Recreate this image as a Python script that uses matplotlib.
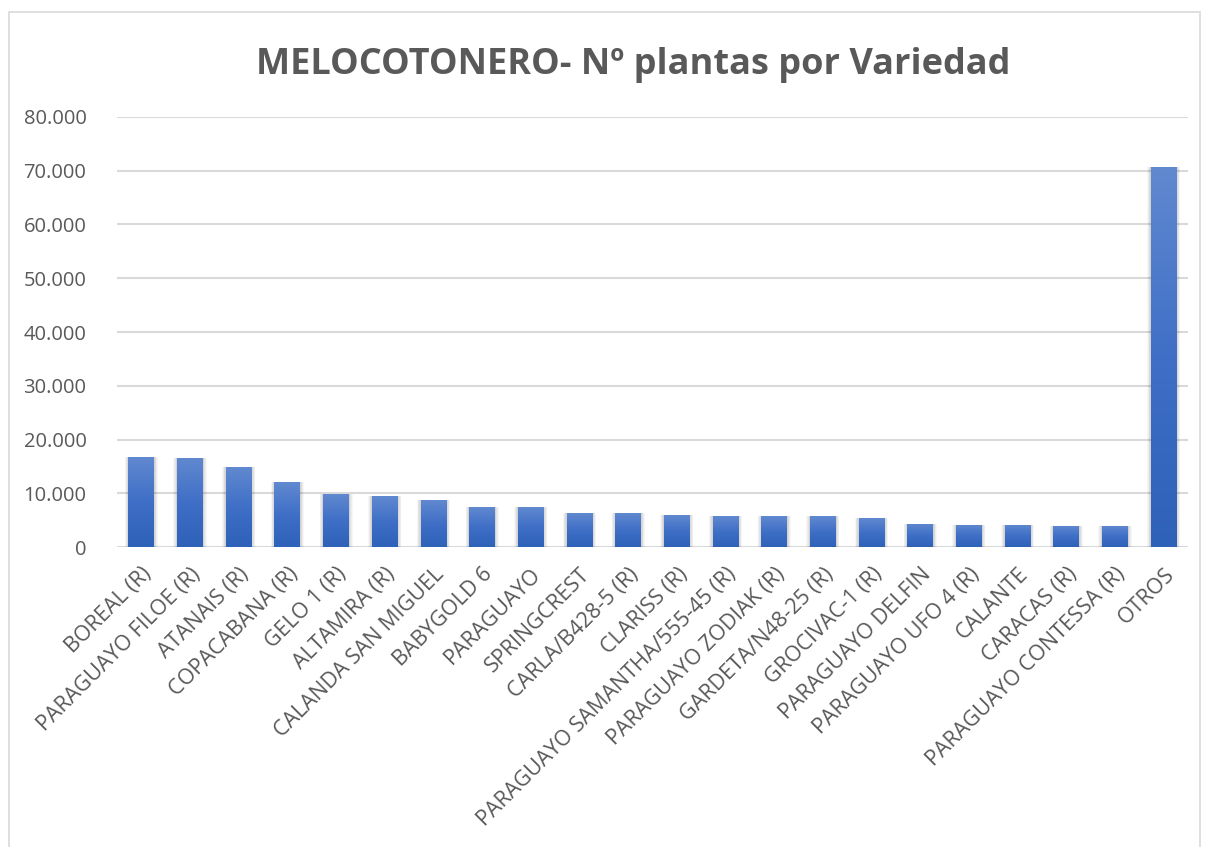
import numpy as np
import matplotlib.pyplot as plt
from matplotlib.colors import LinearSegmentedColormap
from matplotlib.patches import Rectangle
from matplotlib.ticker import FuncFormatter

variedades = ["BOREAL (R)", "PARAGUAYO FILOE (R)", "ATANAIS (R)", "COPACABANA (R)",
              "GELO 1 (R)", "ALTAMIRA (R)", "CALANDA SAN MIGUEL", "BABYGOLD 6",
              "PARAGUAYO", "SPRINGCREST", "CARLA/B428-5 (R)", "CLARISS (R)",
              "PARAGUAYO SAMANTHA/555-45 (R)", "PARAGUAYO ZODIAK (R)",
              "GARDETA/N48-25 (R)", "GROCIVAC-1 (R)", "PARAGUAYO DELFIN",
              "PARAGUAYO UFO 4 (R)", "CALANTE", "CARACAS (R)",
              "PARAGUAYO CONTESSA (R)", "OTROS"]
plantas = [16750, 16570, 14880, 12060, 9810, 9440, 8690, 7370, 7370, 6250,
           6250, 5870, 5680, 5680, 5680, 5310, 4370, 4180, 4180, 4000, 4000,
           70700]
yticks = [0, 10000, 20000, 30000, 40000, 50000, 60000, 70000, 80000]

plt.rcParams['font.family'] = ['Open Sans', 'DejaVu Sans']
gris = "#595959"

fig = plt.figure(figsize=(12.07, 8.47), dpi=100)
fig.patches.append(Rectangle((9 / 1207, -0.1), 1191 / 1207, 1.1 - 12 / 847,
                             transform=fig.transFigure, fill=False,
                             edgecolor="#d9d9d9", linewidth=1.2))
ax = fig.add_axes([117 / 1207, 1 - 547 / 847, 1071 / 1207, 430 / 847])

x = np.arange(len(variedades))
width = 0.53

# soft shadow
for k in range(1, 6):
    ax.bar(x, plantas, width=width + 0.03 * k, color="#000000", alpha=0.035,
           linewidth=0, zorder=2)

bars = ax.bar(x, plantas, width=width, color="#4472C4", linewidth=0, zorder=3)

cmap = LinearSegmentedColormap.from_list("azul", ["#2e61b8", "#3f6fc6", "#6189d0"])
grad = np.linspace(0, 1, 256).reshape(-1, 1)
for b in bars:
    x0, y0 = b.get_x(), b.get_y()
    im = ax.imshow(grad, cmap=cmap, origin="lower", aspect="auto",
                   extent=[x0, x0 + b.get_width(), y0, y0 + b.get_height()],
                   zorder=4)
    im.set_clip_path(b)

ax.set_xlim(-0.5, len(variedades) - 0.5)
ax.set_ylim(0, 80000)
ax.set_yticks(yticks)
ax.yaxis.set_major_formatter(FuncFormatter(lambda v, p: "{:,.0f}".format(v).replace(",", ".")))
ax.grid(axis="y", color="#d9d9d9", linewidth=1.5, zorder=0)
ax.set_axisbelow(True)
for s in ax.spines.values():
    s.set_visible(False)

ax.set_xticks(x)
ax.set_xticklabels(variedades, rotation=45, ha="right", rotation_mode="anchor",
                   fontsize=15.5, color=gris)
ax.tick_params(axis="x", length=0, pad=12)
ax.tick_params(axis="y", length=0, pad=22, labelsize=14.5, labelcolor=gris)

fig.text(633 / 1207, 1 - 65 / 847, "MELOCOTONERO- Nº plantas por Variedad",
         ha="center", va="center", fontsize=26, fontweight="bold", color=gris)

fig.savefig("out.png", dpi=100)
